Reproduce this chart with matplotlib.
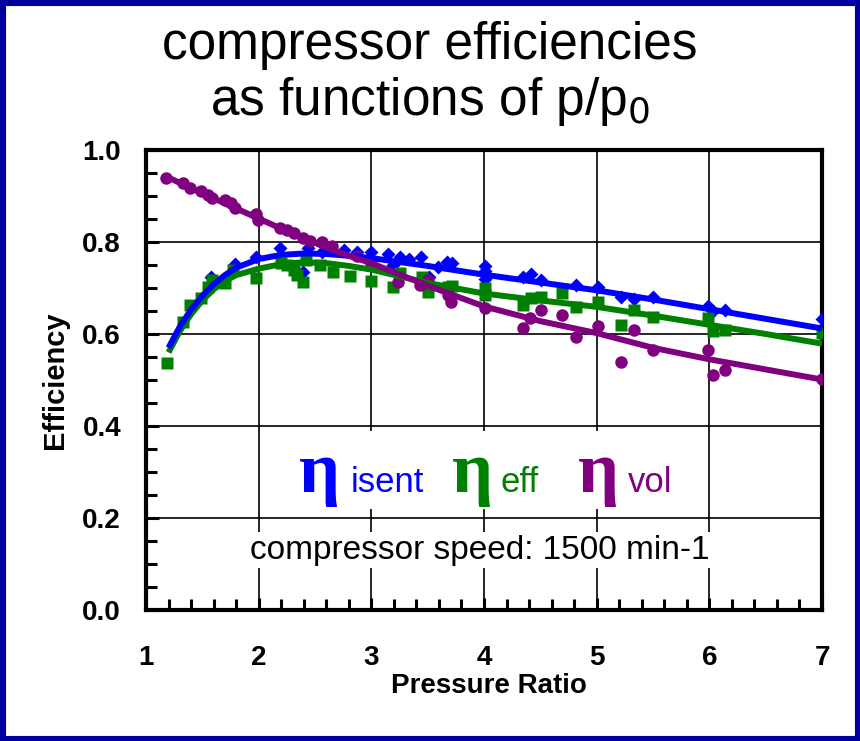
import matplotlib
matplotlib.use("Agg")
import matplotlib.pyplot as plt
from matplotlib.patches import Rectangle
from matplotlib.ticker import MultipleLocator

plt.rcParams['font.family'] = ['Liberation Sans', 'DejaVu Sans']

# measured points (pressure ratio, efficiency)
isent_x = [1.58, 1.79, 1.98, 2.19, 2.39, 2.44, 2.56, 2.76, 2.87, 3.00, 3.15, 3.19, 3.25,
           3.33, 3.44, 3.51, 3.59, 3.67, 3.72, 4.01, 4.01, 4.01, 4.35, 4.42, 4.51, 4.82,
           5.01, 5.22, 5.33, 5.50, 5.99, 6.03, 6.14, 7.00]
isent_y = [0.724, 0.752, 0.768, 0.787, 0.735, 0.788, 0.778, 0.783, 0.779, 0.779, 0.774, 0.750, 0.768,
           0.763, 0.767, 0.724, 0.746, 0.757, 0.754, 0.748, 0.736, 0.720, 0.725, 0.730, 0.717, 0.707,
           0.703, 0.681, 0.676, 0.681, 0.661, 0.649, 0.652, 0.633]

eff_x = [1.19, 1.33, 1.39, 1.49, 1.55, 1.59, 1.70, 1.77, 1.98, 2.20, 2.25, 2.31, 2.34, 2.39,
         2.42, 2.54, 2.66, 2.81, 3.00, 3.19, 3.25, 3.45, 3.50, 3.68, 3.72, 4.01, 4.01, 4.35,
         4.42, 4.51, 4.69, 4.82, 5.01, 5.22, 5.33, 5.50, 5.99, 6.03, 6.14, 7.00]
eff_y = [0.536, 0.627, 0.663, 0.678, 0.703, 0.717, 0.711, 0.739, 0.722, 0.754, 0.750, 0.739, 0.728, 0.713,
         0.761, 0.750, 0.735, 0.727, 0.715, 0.703, 0.732, 0.725, 0.692, 0.703, 0.704, 0.700, 0.685, 0.663,
         0.678, 0.681, 0.689, 0.659, 0.670, 0.620, 0.652, 0.638, 0.635, 0.607, 0.609, 0.602]

vol_x = [1.18, 1.33, 1.39, 1.49, 1.55, 1.59, 1.70, 1.75, 1.79, 1.98, 1.99, 2.19, 2.25, 2.31,
         2.39, 2.46, 2.56, 2.65, 2.87, 3.00, 3.24, 3.43, 3.50, 3.68, 3.71, 4.01, 4.35, 4.41,
         4.51, 4.69, 4.82, 5.01, 5.22, 5.33, 5.50, 5.99, 6.03, 6.14, 7.00]
vol_y = [0.940, 0.928, 0.917, 0.910, 0.902, 0.895, 0.891, 0.884, 0.873, 0.861, 0.848, 0.830, 0.826, 0.820,
         0.809, 0.803, 0.800, 0.791, 0.770, 0.755, 0.714, 0.707, 0.717, 0.685, 0.670, 0.656, 0.613, 0.635,
         0.652, 0.641, 0.594, 0.617, 0.540, 0.609, 0.565, 0.565, 0.511, 0.522, 0.502]

# trend lines
isent_fit_x = [1.2, 1.3, 1.4, 1.5, 1.6, 1.7, 1.8, 2.0, 2.2, 2.4, 2.6, 2.8, 3.0, 3.5, 4.0, 4.5, 5.0, 5.5, 6.0, 6.5, 7.0]
isent_fit_y = [0.570, 0.616, 0.653, 0.683, 0.708, 0.728, 0.744, 0.763, 0.772, 0.775, 0.774, 0.770, 0.765,
               0.748, 0.729, 0.712, 0.695, 0.675, 0.654, 0.633, 0.612]
eff_fit_x = isent_fit_x
eff_fit_y = [0.560, 0.606, 0.643, 0.673, 0.697, 0.715, 0.728, 0.742, 0.752, 0.756, 0.754, 0.748, 0.740,
             0.711, 0.688, 0.673, 0.659, 0.640, 0.620, 0.600, 0.579]
vol_fit_x = [1.2, 1.4, 1.6, 1.8, 2.0, 2.2, 2.4, 2.6, 2.8, 3.0, 3.5, 4.0, 4.5, 5.0, 5.5, 6.0, 6.5, 7.0]
vol_fit_y = [0.940, 0.917, 0.895, 0.873, 0.851, 0.829, 0.808, 0.788, 0.770, 0.754, 0.705, 0.660,
             0.628, 0.602, 0.570, 0.545, 0.523, 0.501]

BLUE = '#0000FF'
GREEN = '#008000'
PURPLE = '#800080'

fig = plt.figure(figsize=(8.6, 7.41), dpi=100)
ax = fig.add_axes([146/860, 1-610/741, 676/860, 460/741])

ax.plot(isent_x, isent_y, 'D', color=BLUE, ms=7.5, mec='none', zorder=3)
ax.plot(eff_x, eff_y, 's', color=GREEN, ms=8.5, mec='none', zorder=3)
ax.plot(vol_x, vol_y, 'o', color=PURPLE, ms=9, mec='none', zorder=3)
ax.plot(eff_fit_x, eff_fit_y, color=GREEN, lw=4.3, zorder=4, solid_capstyle='butt')
ax.plot(isent_fit_x, isent_fit_y, color=BLUE, lw=4.3, zorder=5, solid_capstyle='butt')
ax.plot(vol_fit_x, vol_fit_y, color=PURPLE, lw=4.3, zorder=6, solid_capstyle='butt')

ax.set_xlim(1, 7)
ax.set_ylim(0, 1.0)
ax.xaxis.set_major_locator(MultipleLocator(1))
ax.xaxis.set_minor_locator(MultipleLocator(0.2))
ax.yaxis.set_major_locator(MultipleLocator(0.2))
ax.yaxis.set_minor_locator(MultipleLocator(0.05))
ax.grid(True, which='major', color='black', lw=1.2, zorder=1)
ax.tick_params(which='both', direction='in', width=2.2, top=False, right=False)
ax.tick_params(which='major', length=9)
ax.tick_params(which='minor', length=8)
ax.tick_params(axis='x', which='major', pad=25)
ax.tick_params(axis='y', which='major', pad=18)
ax.yaxis.set_major_formatter(matplotlib.ticker.FormatStrFormatter('%.1f'))
for lab in ax.get_xticklabels() + ax.get_yticklabels():
    lab.set_fontsize(20)
    lab.set_fontweight('bold')
for s in ax.spines.values():
    s.set_linewidth(3)

# legend-like labels
box = dict(facecolor='white', edgecolor='none', pad=2)
base = 0.257
ax.text(0.226, base, 'η', color=BLUE, fontsize=52, family='Liberation Serif', fontweight='bold',
        transform=ax.transAxes, va='baseline', ha='left', zorder=7)
ax.text(0.302, base, 'isent', color=BLUE, fontsize=25, transform=ax.transAxes,
        va='baseline', ha='left', zorder=7)
ax.text(0.452, base, 'η', color=GREEN, fontsize=52, family='Liberation Serif', fontweight='bold',
        transform=ax.transAxes, va='baseline', ha='left', zorder=7)
ax.text(0.524, base, 'eff', color=GREEN, fontsize=25, transform=ax.transAxes,
        va='baseline', ha='left', zorder=7)
ax.text(0.639, base, 'η', color=PURPLE, fontsize=52, family='Liberation Serif', fontweight='bold',
        transform=ax.transAxes, va='baseline', ha='left', zorder=7)
ax.text(0.713, base, 'vol', color=PURPLE, fontsize=25, transform=ax.transAxes,
        va='baseline', ha='left', zorder=7)
ax.add_patch(Rectangle((0.2, 0.22), 0.62, 0.17, transform=ax.transAxes,
                       facecolor='white', edgecolor='none', zorder=2))

ax.text(0.494, 0.13, 'compressor speed: 1500 min-1', fontsize=24, ha='center', va='center',
        transform=ax.transAxes, bbox=box, zorder=7)

fig.text(489/860, 1-686/741, 'Pressure Ratio', fontsize=20, fontweight='bold',
         ha='center', va='center')
fig.text(55/860, 1-380/741, 'Efficiency', fontsize=21, fontweight='bold',
         ha='center', va='center', rotation=90)

fig.text(430/860, 1-46/741, 'compressor efficiencies', fontsize=37, ha='center', va='center')
fig.text(430/860, 1-101/741, 'as functions of p/p$_0$', fontsize=37, ha='center', va='center')

fig.patches.append(Rectangle((0, 0), 1, 1, transform=fig.transFigure, fill=False,
                             edgecolor='#0000A0', lw=8))

fig.savefig('out.png', dpi=100)
